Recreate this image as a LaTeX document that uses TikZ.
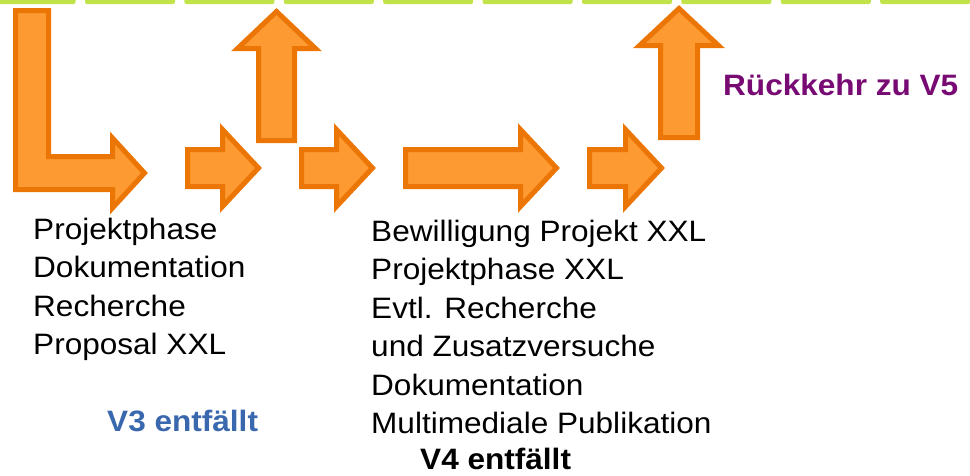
\documentclass[tikz,border=0pt]{standalone}
\usepackage{fontspec}
\setmainfont{Liberation Sans}[FakeStretch=1.07]
\usepackage{tikz}

\definecolor{barGreen}{HTML}{C2E24A}
\definecolor{arrowFill}{HTML}{FD9A32}
\definecolor{arrowLine}{HTML}{EC7605}
\definecolor{vBlue}{HTML}{3A68AE}
\definecolor{vPurple}{HTML}{780A74}

\begin{document}
\begin{tikzpicture}[x=1pt, y=-1pt,
  blockarrow/.style = {fill=arrowFill, draw=arrowLine, line width=5pt, line join=miter},
  listtext/.style = {anchor=base west, inner sep=0pt, align=left,
    font=\fontsize{29.5}{38.5}\selectfont},
  note/.style = {anchor=base west, inner sep=0pt,
    font=\fontsize{29.5}{38.5}\selectfont\bfseries}]
  	\useasboundingbox (0,0) rectangle (970,475);
  	\clip (0,0) rectangle (970,475);

  	\foreach \i in {0,...,9}
  		\fill[barGreen, rounded corners=2pt] (-14.4+99.4*\i,-10) rectangle ++(90,14);

  	\draw[blockarrow] (15.5,10.5) -- (48.5,10.5) -- (48.5,156.5) -- (112.5,156.5) -- (112.5,138)
  		-- (144.5,173) -- (112.5,208) -- (112.5,189.5) -- (15.5,189.5) -- cycle;
  	\draw[blockarrow] (187.5,149.5) -- (222.5,149.5) -- (222.5,129.5) -- (258.5,168)
  		-- (222.5,206.5) -- (222.5,186.5) -- (187.5,186.5) -- cycle;
  	\draw[blockarrow] (258.5,140.5) -- (258.5,48.5) -- (237.5,48.5) -- (276.5,11.5)
  		-- (315.5,48.5) -- (294.5,48.5) -- (294.5,140.5) -- cycle;
  	\draw[blockarrow] (301.5,149.5) -- (336.5,149.5) -- (336.5,129.5) -- (372.5,168)
  		-- (336.5,206.5) -- (336.5,186.5) -- (301.5,186.5) -- cycle;
  	\draw[blockarrow] (405.5,149.5) -- (520.5,149.5) -- (520.5,129.5) -- (556.5,168)
  		-- (520.5,206.5) -- (520.5,186.5) -- (405.5,186.5) -- cycle;
  	\draw[blockarrow] (589.5,149.5) -- (625.5,149.5) -- (625.5,129.5) -- (661.5,168)
  		-- (625.5,206.5) -- (625.5,186.5) -- (589.5,186.5) -- cycle;
  	\draw[blockarrow] (660.5,137.5) -- (660.5,45.5) -- (639.5,45.5) -- (679,8.5)
  		-- (718.5,45.5) -- (697.5,45.5) -- (697.5,137.5) -- cycle;

  	\node[listtext] (phaseOne) at (33,354.5)
  		{Projektphase\\Dokumentation\\Recherche\\Proposal XXL};
  	\node[note, text=vBlue] (vThree) at (107,431) {V3 entfällt};

  	\node[listtext] (phaseTwo) at (371,433.5)
  		{Bewilligung Projekt XXL\\Projektphase XXL\\Evtl. Recherche\\und Zusatzversuche\\Dokumentation\\Multimediale Publikation};
  	\node[note] (vFour) at (420,469.5) {V4 entfällt};

  	\node[note, text=vPurple] (returnFive) at (723,95) {Rückkehr zu V5};
\end{tikzpicture}
\end{document}
